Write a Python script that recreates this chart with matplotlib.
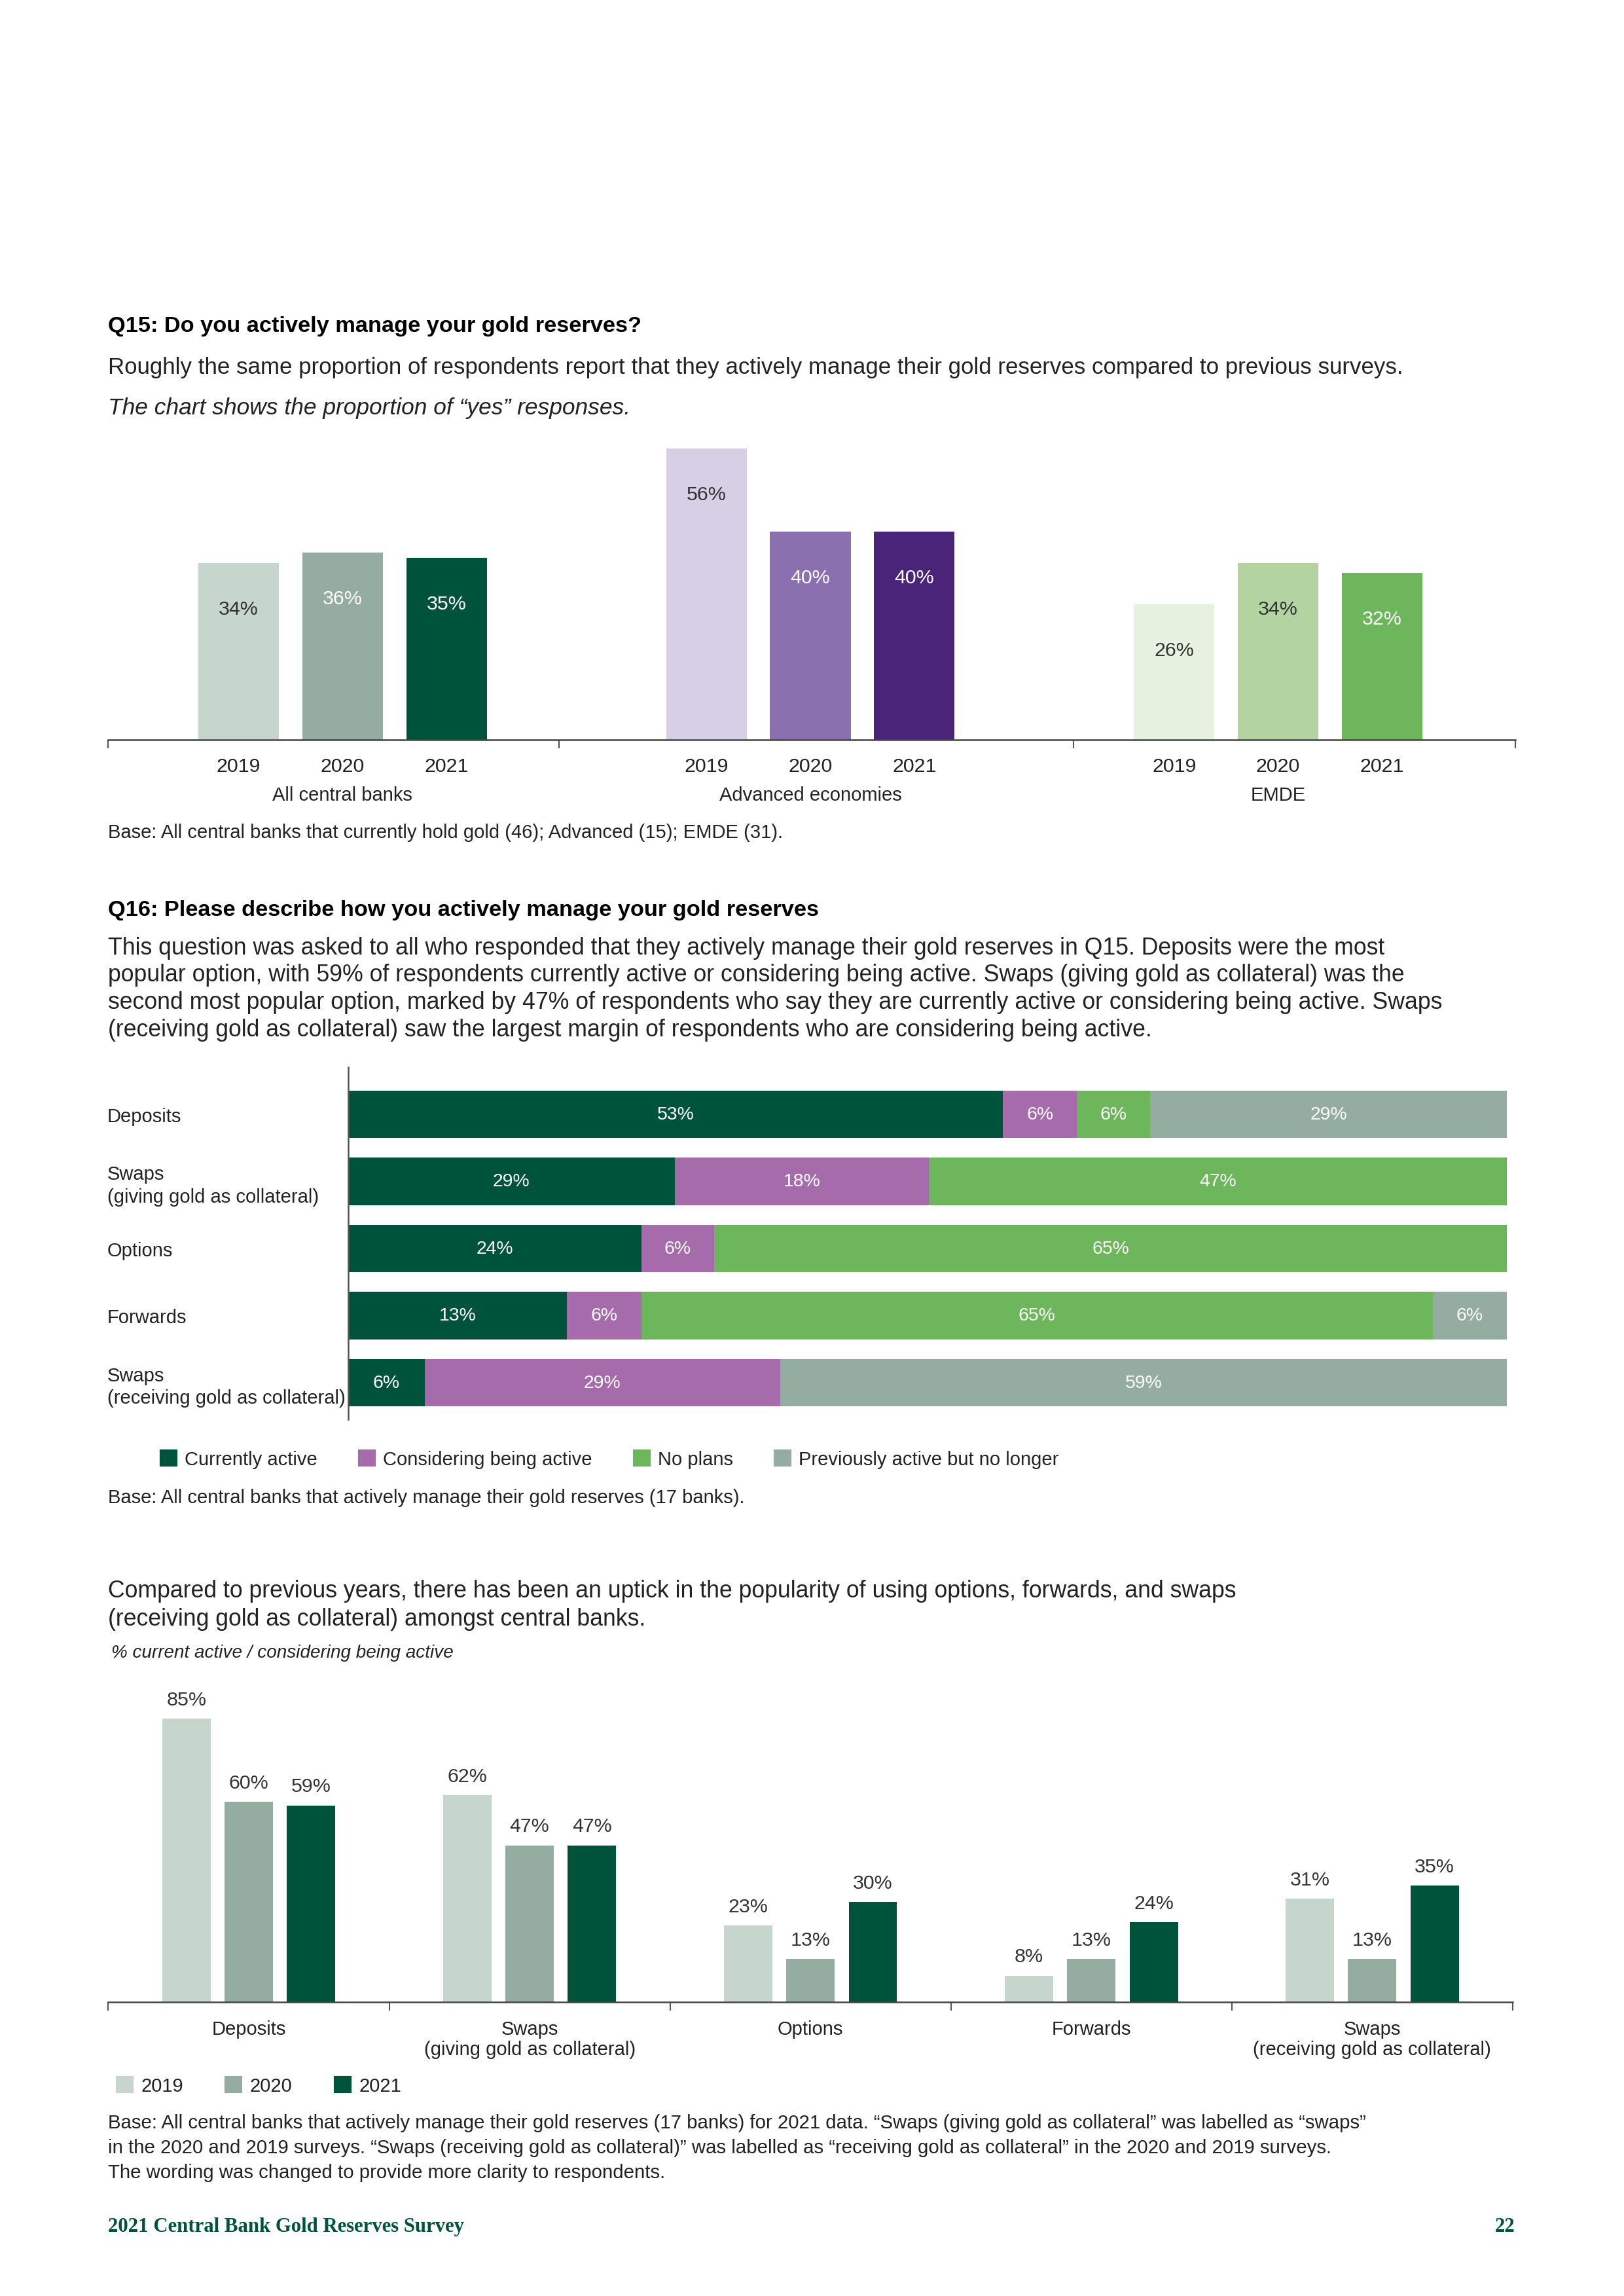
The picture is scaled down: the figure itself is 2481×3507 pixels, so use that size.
import numpy as np
import matplotlib.pyplot as plt
from matplotlib.patches import Patch
from matplotlib.transforms import blended_transform_factory

plt.rcParams['font.family'] = ['Liberation Sans', 'DejaVu Sans']

# page grid the layout was measured on (display units)
W, H = 1109.4, 1568.6


def fx(x):
    return x / W


def fy(y):
    return 1 - y / H


# Q15: share of "yes" responses
q15_groups = ['All central banks', 'Advanced economies', 'EMDE']
q15_years = ['2019', '2020', '2021']
q15_all = [34, 36, 35]
q15_adv = [56, 40, 40]
q15_emde = [26, 34, 32]

# Q16: how gold reserves are actively managed (printed labels)
q16_cats = ['Deposits', 'Swaps\n(giving gold as collateral)', 'Options', 'Forwards',
            'Swaps\n(receiving gold as collateral)']
q16_series = ['Currently active', 'Considering being active', 'No plans',
              'Previously active but no longer']
q16_current = [53, 29, 24, 13, 6]
q16_considering = [6, 18, 6, 6, 29]
q16_noplans = [6, 47, 65, 65, 0]
q16_previous = [29, 0, 0, 6, 59]
# segment lengths as drawn in the chart (share of the full bar)
q16_len_current = [56.5, 28.2, 25.3, 18.9, 6.6]
q16_len_considering = [6.4, 21.9, 6.3, 6.4, 30.7]
q16_len_noplans = [6.3, 49.9, 68.4, 68.3, 0]
q16_len_previous = [30.8, 0, 0, 6.4, 62.7]

# % current active / considering being active, by survey year
tr_cats = ['Deposits', 'Swaps\n(giving gold as collateral)', 'Options', 'Forwards',
           'Swaps\n(receiving gold as collateral)']
tr_years = ['2019', '2020', '2021']
tr_2019 = [85, 62, 23, 8, 31]
tr_2020 = [60, 47, 13, 13, 13]
tr_2021 = [59, 47, 30, 24, 35]

TXT = '#222222'
GREY_GREENS = ['#c6d6cd', '#94ada0', '#00533b']
PURPLES = ['#d7cfe6', '#8b70b0', '#4a2479']
GREENS = ['#e6f1df', '#b3d4a0', '#6db65b']
Q16_COLORS = ['#00533b', '#a66bab', '#6db65b', '#94ada0']
BODY = 8.55
HEAD = 8.25
SMALL = 7.0

fig = plt.figure(figsize=(8.27, 11.693), dpi=300)


def line(x, y, s, **kw):
    kw.setdefault('fontsize', BODY)
    kw.setdefault('color', TXT)
    fig.text(fx(x), fy(y), s, va='center', ha=kw.pop('ha', 'left'), **kw)


# ---------------- Q15 ----------------
line(74, 223, 'Q15: Do you actively manage your gold reserves?', fontweight='bold', fontsize=HEAD, color='black')
line(74, 251, 'Roughly the same proportion of respondents report that they actively manage their '
              'gold reserves compared to previous surveys.', fontsize=8.36)
line(74, 279, 'The chart shows the proportion of \u201cyes\u201d responses.', style='italic', fontsize=8.5)

ax1 = fig.add_axes([fx(74), fy(505.5), fx(1035) - fx(74), fy(290) - fy(505.5)])
q15_vals = [q15_all, q15_adv, q15_emde]
q15_cols = [GREY_GREENS, PURPLES, GREENS]
q15_txt = [['#333333', 'white', 'white'], ['#333333', 'white', 'white'], ['#333333', '#333333', 'white']]
ticks, labels = [], []
tr1 = blended_transform_factory(ax1.transData, fig.transFigure)
for g in range(3):
    x = g * 4.5 + np.arange(3)
    bars = ax1.bar(x, q15_vals[g], width=0.775, color=q15_cols[g])
    for b, v, tc in zip(bars, q15_vals[g], q15_txt[g]):
        ax1.annotate(f'{v}%', (b.get_x() + b.get_width() / 2, v), xytext=(0, -16.8),
                     textcoords='offset points', ha='center', va='center', color=tc, fontsize=7.3)
    ticks += list(x)
    labels += q15_years
    ax1.text(x[1], fy(543.5), q15_groups[g], transform=tr1, ha='center', va='center',
             fontsize=SMALL, color=TXT)
ax1.set_xlim(-1.254, 12.28)
ax1.set_ylim(0, 60.7)
ax1.set_xticks(ticks)
ax1.set_xticklabels(labels, fontsize=7.3, color=TXT)
ax1.set_xticks([-1.254, 3.08, 8.03, 12.28], minor=True)
ax1.tick_params(axis='x', which='major', length=0, pad=6.3)
ax1.tick_params(axis='x', which='minor', length=3.2, width=0.5, color='#555555')
ax1.set_yticks([])
for s in ['top', 'right', 'left']:
    ax1.spines[s].set_visible(False)
ax1.spines['bottom'].set_color('#444444')
ax1.spines['bottom'].set_linewidth(0.6)

line(74, 569, 'Base: All central banks that currently hold gold (46); Advanced (15); EMDE (31).', fontsize=SMALL)

# ---------------- Q16 ----------------
line(74, 622, 'Q16: Please describe how you actively manage your gold reserves', fontweight='bold',
     fontsize=HEAD, color='black')
q16_text = [
    'This question was asked to all who responded that they actively manage their gold reserves in Q15. Deposits were the most',
    'popular option, with 59% of respondents currently active or considering being active. Swaps (giving gold as collateral) was the',
    'second most popular option, marked by 47% of respondents who say they are currently active or considering being active. Swaps',
    '(receiving gold as collateral) saw the largest margin of respondents who are considering being active.',
]
for i, s in enumerate(q16_text):
    line(74, 647.5 + i * 18.7, s)

ax2 = fig.add_axes([fx(237.8), fy(970), fx(1029.4) - fx(237.8), fy(729.3) - fy(970)])
q16_vals = [q16_current, q16_considering, q16_noplans, q16_previous]
q16_lens = [q16_len_current, q16_len_considering, q16_len_noplans, q16_len_previous]
y = np.arange(len(q16_cats))
left = np.zeros(len(q16_cats))
for vals, lens, col, name in zip(q16_vals, q16_lens, Q16_COLORS, q16_series):
    w = np.array(lens, dtype=float)
    bars = ax2.barh(y, w, left=left, height=0.71, color=col, label=name)
    for b, v in zip(bars, vals):
        if v:
            ax2.text(b.get_x() + b.get_width() / 2, b.get_y() + b.get_height() / 2, f'{v}%',
                     ha='center', va='center', color='white', fontsize=6.8,
                     family=['Liberation Sans Narrow', 'Liberation Sans'])
    left += w
ax2.set_xlim(0, left.max())
ax2.set_ylim(4.55, -0.703)
ax2.set_xticks([])
ax2.set_yticks(y)
ax2.set_yticklabels(q16_cats, fontsize=SMALL, color=TXT, linespacing=1.3)
for t in ax2.get_yticklabels():
    t.set_ha('left')
ax2.tick_params(axis='y', length=0, pad=88.3)
for s in ['top', 'right', 'bottom']:
    ax2.spines[s].set_visible(False)
ax2.spines['left'].set_color('#555555')
ax2.spines['left'].set_linewidth(0.6)

h2 = [Patch(color=c) for c in Q16_COLORS]
fig.legend(h2, q16_series, loc='center left', bbox_to_anchor=(fx(110), fy(997)), ncol=4,
           frameon=False, fontsize=SMALL, handlelength=0.78, handleheight=0.78, handletextpad=0.46,
           columnspacing=2.2, borderpad=0, borderaxespad=0, labelcolor=TXT)

line(74, 1023, 'Base: All central banks that actively manage their gold reserves (17 banks).', fontsize=SMALL)

# ---------------- trend ----------------
line(74, 1087, 'Compared to previous years, there has been an uptick in the popularity of using options, '
               'forwards, and swaps')
line(74, 1106, '(receiving gold as collateral) amongst central banks.')
line(76, 1129, '% current active / considering being active', style='italic', fontsize=6.7)

ax3 = fig.add_axes([fx(74), fy(1368), fx(1033.3) - fx(74), fy(1150) - fy(1368)])
gx = np.arange(len(tr_cats)) * 4.5
for i, (vals, col) in enumerate(zip([tr_2019, tr_2020, tr_2021], GREY_GREENS)):
    bars = ax3.bar(gx + i, vals, width=0.776, color=col, label=tr_years[i])
    for b, v in zip(bars, vals):
        ax3.annotate(f'{v}%', (b.get_x() + b.get_width() / 2, v), xytext=(0, 7),
                     textcoords='offset points', ha='center', va='center', color='#333333', fontsize=7.3)
ax3.set_xlim(-1.25, 21.25)
ax3.set_ylim(0, 95.6)
ax3.set_xticks(gx + 1)
ax3.set_xticklabels(tr_cats, fontsize=SMALL, color=TXT, linespacing=1.15)
ax3.set_xticks(list(gx - 1.25) + [gx[-1] + 3.25], minor=True)
ax3.tick_params(axis='x', which='major', length=0, pad=6.3)
ax3.tick_params(axis='x', which='minor', length=3.2, width=0.5, color='#555555')
ax3.set_yticks([])
for s in ['top', 'right', 'left']:
    ax3.spines[s].set_visible(False)
ax3.spines['bottom'].set_color('#444444')
ax3.spines['bottom'].set_linewidth(0.6)

h3 = [Patch(color=c) for c in GREY_GREENS]
fig.legend(h3, tr_years, loc='center left', bbox_to_anchor=(fx(80), fy(1425)), ncol=3,
           frameon=False, fontsize=SMALL, handlelength=0.78, handleheight=0.78, handletextpad=0.46,
           columnspacing=2.25, borderpad=0, borderaxespad=0, labelcolor=TXT)

base3 = [
    'Base: All central banks that actively manage their gold reserves (17 banks) for 2021 data. \u201cSwaps (giving gold as collateral\u201d was labelled as \u201cswaps\u201d',
    'in the 2020 and 2019 surveys. \u201cSwaps (receiving gold as collateral)\u201d was labelled as \u201creceiving gold as collateral\u201d in the 2020 and 2019 surveys.',
    'The wording was changed to provide more clarity to respondents.',
]
for i, s in enumerate(base3):
    line(74, 1450 + i * 17, s, fontsize=7.05)

# footer
line(74, 1521, '2021 Central Bank Gold Reserves Survey', family='Liberation Serif', fontweight='bold',
     fontsize=7.4, color='#00533b')
line(1035, 1521, '22', family='Liberation Serif', fontweight='bold', fontsize=7.4, color='#00533b', ha='right')

fig.savefig('out.png', dpi=300)
